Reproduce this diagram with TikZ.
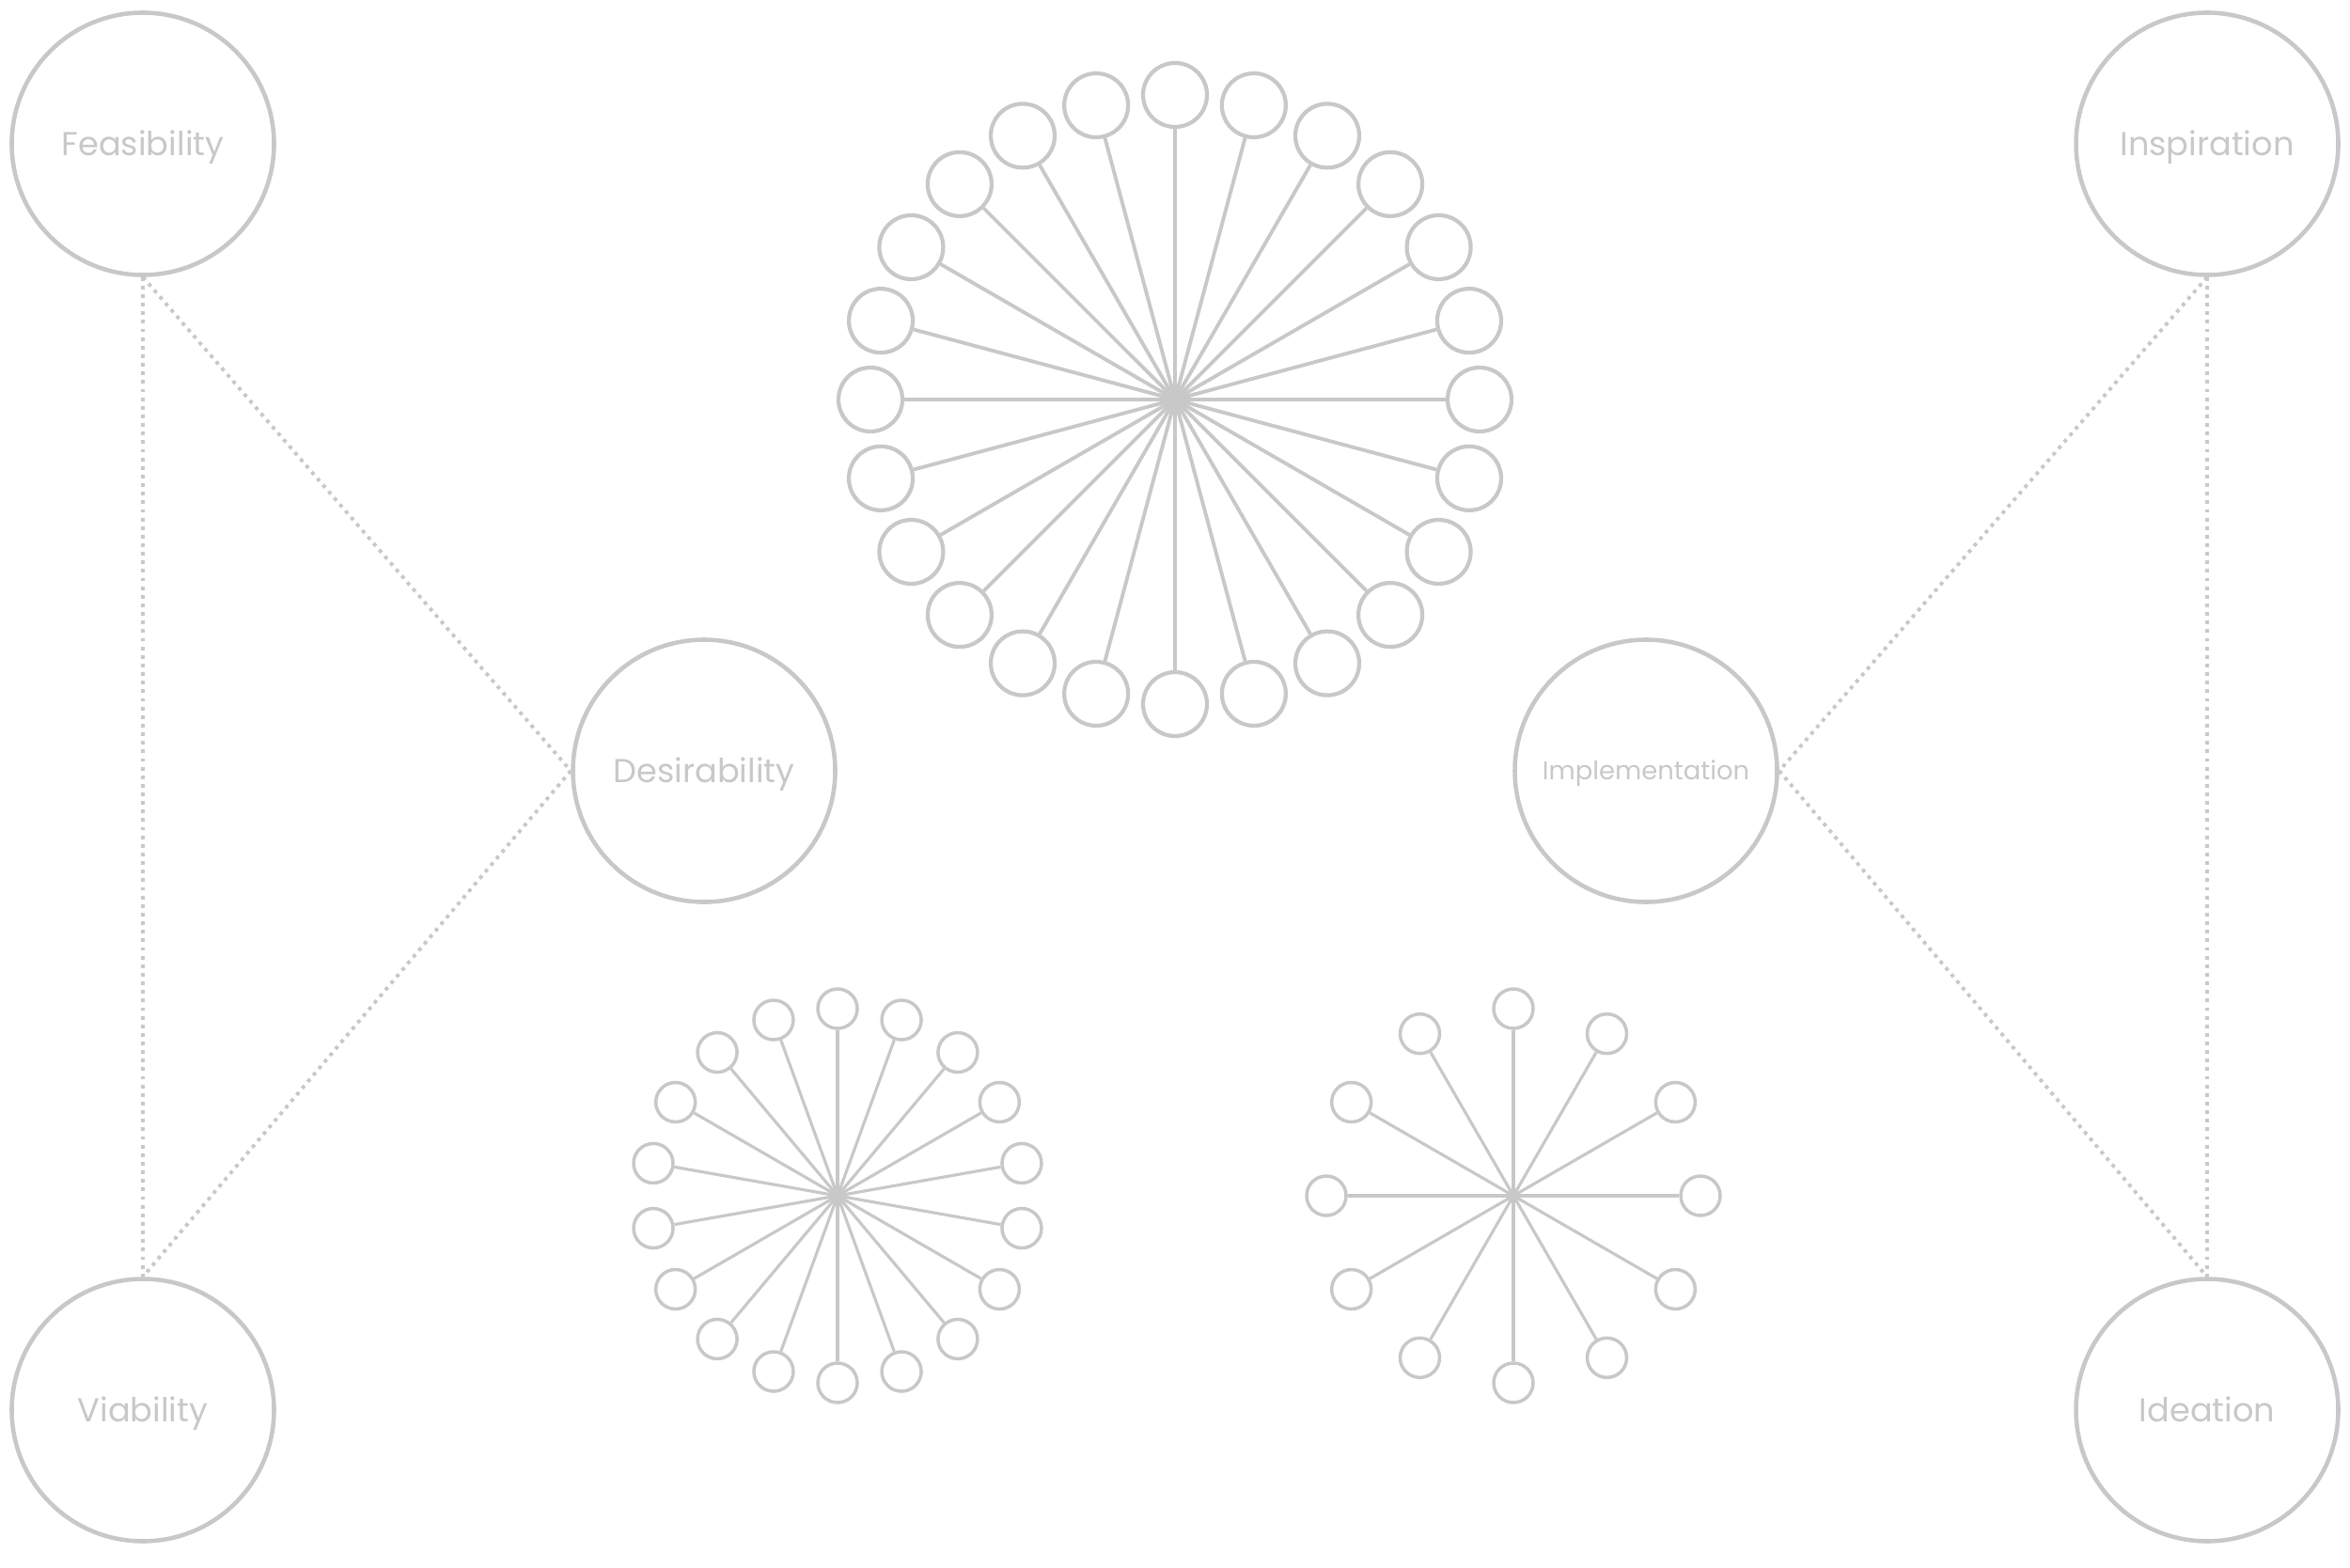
\documentclass[tikz,border=0pt]{standalone}
\usepackage{fontspec}
\setmainfont{Poppins}
\usepackage{tikz}
\usetikzlibrary{shapes,positioning}
\definecolor{haze}{HTML}{C8C8C8}
\tikzstyle{stage} = [draw=haze, circle, line width=1.3pt, minimum size=2.79cm, inner sep=0pt, text=haze, font=\fontsize{10}{12}\selectfont, text height=7pt, text depth=0pt]
\tikzstyle{petal} = [draw=haze, circle, line width=1.2pt, minimum size=0.68cm, inner sep=0pt]
\tikzstyle{bud} = [draw=haze, circle, line width=1pt, minimum size=0.42cm, inner sep=0pt]
\tikzset{
  spoke/.style ={draw=haze, line width=1.1pt},
  twig/.style ={draw=haze, line width=0.9pt},
  link/.style ={draw=haze, line width=1.1pt, dash pattern=on 1.1pt off 1.5pt}
}

\begin{document}
\begin{tikzpicture}
  \useasboundingbox (0,0) rectangle (25,16.67);

  \node[stage] (feasible) at (1.52,15.14) {Feasibility};
  \node[stage,below of=feasible,node distance=13.47cm] (viable) {Viability};
  \node[stage] (inspire) at (23.48,15.14) {Inspiration};
  \node[stage,below of=inspire,node distance=13.47cm] (ideate) {Ideation};
  \node[stage] (desire) at (7.49,8.47) {Desirability};
  \node[stage,font=\fontsize{7.8}{9}\selectfont,text height=5.5pt] (implement) at (17.51,8.47) {Implementation};

  \begin{scope}[every path/.style=link]
    \path (feasible.south) -- (viable.north);
    \path (feasible.south) -- (desire.west);
    \path (desire.west) -- (viable.north);
    \path (inspire.south) -- (ideate.north);
    \path (inspire.south) -- (implement.east);
    \path (implement.east) -- (ideate.north);
  \end{scope}

  % large burst
  \coordinate (hub) at (12.5,12.42);
  \foreach \i in {0,...,23}{
    \node[petal] (big\i) at ([shift={(15*\i:3.24)}]hub) {};
    \path[spoke] (hub) -- (big\i);
  }

  % lower left burst
  \coordinate (hubleft) at (8.91,3.95);
  \foreach \i in {0,...,17}{
    \node[bud] (left\i) at ([shift={(10+20*\i:1.99)}]hubleft) {};
    \path[twig] (hubleft) -- (left\i);
  }

  % lower right burst
  \coordinate (hubright) at (16.10,3.95);
  \foreach \i in {0,...,11}{
    \node[bud] (right\i) at ([shift={(30*\i:1.99)}]hubright) {};
    \path[twig] (hubright) -- (right\i);
  }

\end{tikzpicture}
\end{document}
